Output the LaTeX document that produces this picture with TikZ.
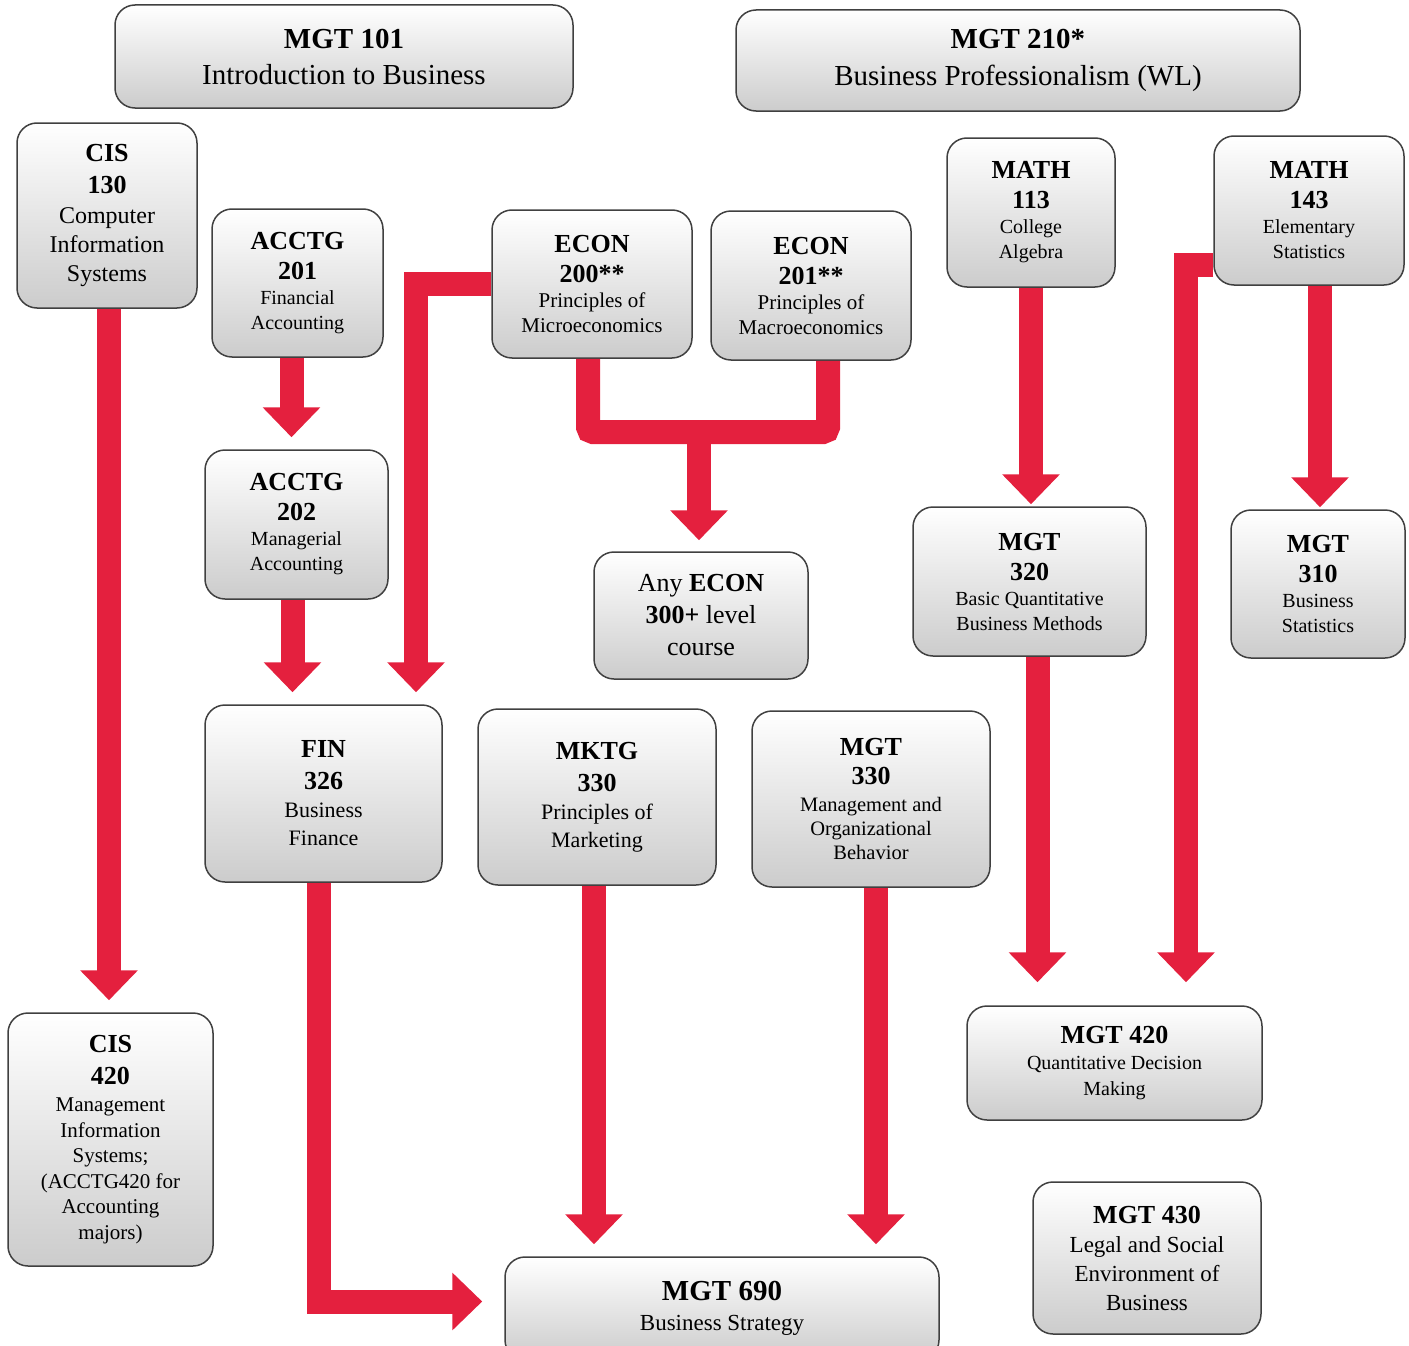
\documentclass[tikz,border=0pt]{standalone}
\usepackage{fontspec}
\setmainfont{Liberation Serif}
\usetikzlibrary{arrows.meta}
\definecolor{flowred}{RGB}{228,32,62}
\newcommand\crs[1]{{\fontsize{26}{30}\selectfont\bfseries #1}}

\begin{document}
\begin{tikzpicture}[x=1pt,y=-1pt,
		course/.style={draw=black!75,line width=1.5pt,rounded corners=20pt,top color=white,middle color=white,bottom color=black!20,align=center,inner sep=2pt,font=\fontsize{20}{25}\selectfont},
		pre/.style={flowred,line width=24pt,-{Triangle[width=56pt,length=30pt]},shorten >=12pt},
		bar/.style={flowred,line width=24pt,rounded corners=5pt}]
			\useasboundingbox (0,0) rectangle (1409,1346);
			\node[course,minimum width=458pt,minimum height=103pt,font=\fontsize{29}{36}\selectfont] (mgtA) at (344,56.5) {\textbf{MGT 101}\\Introduction to Business};
			\node[course,minimum width=564pt,minimum height=101pt,font=\fontsize{29}{37}\selectfont] (mgtB) at (1018,60.5) {\textbf{MGT 210*}\\Business Professionalism (WL)};
			\node[course,minimum width=180pt,minimum height=185pt,font=\fontsize{24}{29}\selectfont] (cisA) at (107,215.5) {\crs{CIS}\\[3pt]\crs{130}\\[1pt]Computer\\Information\\Systems};
			\node[course,minimum width=171pt,minimum height=148pt] (acA) at (297.5,283) {\crs{ACCTG}\\[5pt]\crs{201}\\Financial\\Accounting};
			\node[course,minimum width=200pt,minimum height=148pt,font=\fontsize{21}{25}\selectfont] (ecA) at (592,284) {\crs{ECON}\\[5pt]\crs{200**}\\Principles of\\Microeconomics};
			\node[course,minimum width=200pt,minimum height=149pt,font=\fontsize{21}{25}\selectfont] (ecB) at (811,285.5) {\crs{ECON}\\[5pt]\crs{201**}\\Principles of\\Macroeconomics};
			\node[course,minimum width=168pt,minimum height=149pt] (maA) at (1031,212.5) {\crs{MATH}\\[5pt]\crs{113}\\College\\Algebra};
			\node[course,minimum width=190pt,minimum height=149pt] (maB) at (1309,210.5) {\crs{MATH}\\[5pt]\crs{143}\\Elementary\\Statistics};
			\node[course,minimum width=183pt,minimum height=149pt] (acB) at (296.5,524.5) {\crs{ACCTG}\\[5pt]\crs{202}\\Managerial\\Accounting};
			\node[course,minimum width=214pt,minimum height=127pt,font=\fontsize{26}{32}\selectfont] (ecAny) at (701,615.5) {Any \textbf{ECON}\\\textbf{300+} level\\course};
			\node[course,minimum width=233pt,minimum height=149pt] (mgtQ) at (1029.5,581.5) {\crs{MGT}\\[5pt]\crs{320}\\Basic Quantitative\\Business Methods};
			\node[course,minimum width=174pt,minimum height=148pt] (mgtS) at (1318,584) {\crs{MGT}\\[5pt]\crs{310}\\Business\\Statistics};
			\node[course,minimum width=237pt,minimum height=177pt,font=\fontsize{22}{28}\selectfont] (fin) at (323.5,793.5) {\crs{FIN}\\[4pt]\crs{326}\\Business\\Finance};
			\node[course,minimum width=238pt,minimum height=176pt,font=\fontsize{22}{28}\selectfont] (mktg) at (597,797) {\crs{MKTG}\\[4pt]\crs{330}\\Principles of\\Marketing};
			\node[course,minimum width=238pt,minimum height=176pt,font=\fontsize{20.5}{24}\selectfont] (mgtO) at (871,799) {\crs{MGT}\\[5pt]\crs{330}\\[3pt]Management and\\Organizational\\Behavior};
			\node[course,minimum width=205pt,minimum height=253pt,font=\fontsize{21}{25.5}\selectfont] (cisB) at (110.5,1139.5) {\crs{CIS}\\[6pt]\crs{420}\\[2pt]Management\\Information\\Systems;\\(ACCTG420 for\\Accounting\\majors)};
			\node[course,minimum width=295pt,minimum height=114pt,font=\fontsize{20}{26}\selectfont] (mgtD) at (1114.5,1063) {\crs{MGT 420}\\Quantitative Decision\\Making};
			\node[course,minimum width=228pt,minimum height=152pt,font=\fontsize{23}{29}\selectfont] (mgtL) at (1147,1258) {\crs{MGT 430}\\Legal and Social\\Environment of\\Business};
			\node[course,minimum width=434pt,minimum height=103pt,font=\fontsize{23}{30}\selectfont] (mgtX) at (722,1308.5) {{\fontsize{29}{30}\selectfont\bfseries MGT 690}\\Business Strategy};
			\coordinate (ecJ) at (699,432);
			\draw[pre] ([xshift=2pt]cisA.south) -- ([xshift=2pt]cisA.south |- cisB.north);
			\draw[pre] ([xshift=-6pt]acA.south) -- ([xshift=-6pt]acA.south |- acB.north);
			\draw[pre] ([xshift=-4pt]acB.south) -- ([xshift=-4pt]acB.south |- fin.north);
			\draw[pre] (ecA.west) -| ([xshift=92.5pt]fin.north);
			\draw[bar] ([xshift=-4pt]ecA.south) |- (ecJ) -| ([xshift=17pt]ecB.south);
			\draw[pre,shorten >=11pt] (ecJ) -- (ecJ |- ecAny.north);
			\draw[pre,shorten >=2pt] (maA.south) -- (maA.south |- mgtQ.north);
			\draw[pre,shorten >=2pt] ([xshift=11pt]maB.south) -- ([xshift=11pt]maB.south |- mgtS.north);
			\draw[pre,shorten >=23pt] ([yshift=-54pt]maB.west) -| ([xshift=71.5pt]mgtD.north);
			\draw[pre,shorten >=23pt] ([xshift=8pt]mgtQ.south) -- ([xshift=8pt]mgtQ.south |- mgtD.north);
			\draw[pre,shorten >=22pt] ([xshift=-5pt]fin.south) |- ([yshift=7pt]mgtX.west);
			\draw[pre] ([xshift=-3pt]mktg.south) -- ([xshift=-3pt]mktg.south |- mgtX.north);
			\draw[pre] ([xshift=5pt]mgtO.south) -- ([xshift=5pt]mgtO.south |- mgtX.north);
		\end{tikzpicture}
\end{document}
